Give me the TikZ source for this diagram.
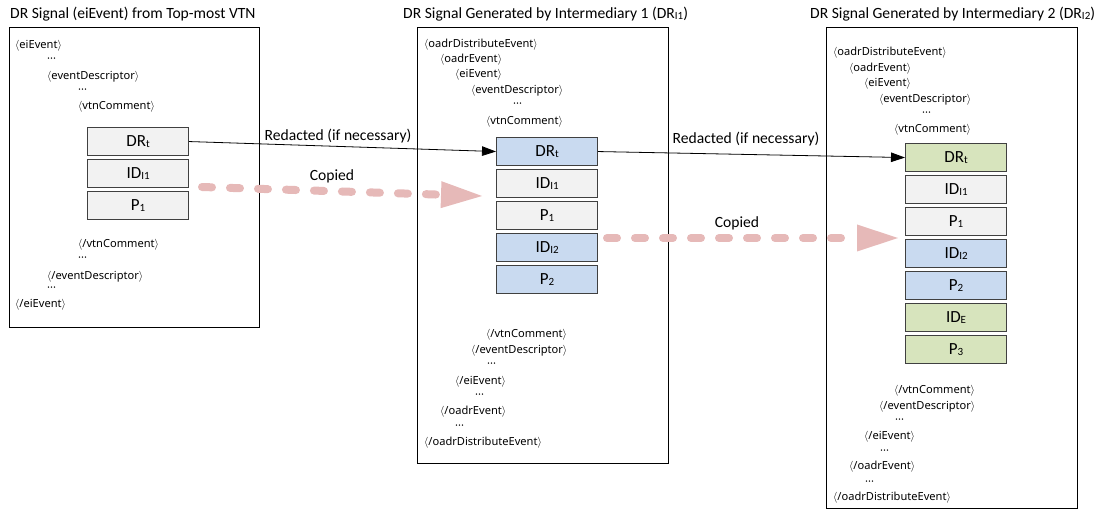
\documentclass[tikz,border=0pt]{standalone}
\usepackage{fontspec}
\setmainfont{Carlito}
\newfontfamily\xmlfont{Noto Sans}
\usetikzlibrary{arrows.meta,calc}
\definecolor{boxgray}{HTML}{F2F2F2}
\definecolor{boxblue}{HTML}{C9DAF0}
\definecolor{boxgreen}{HTML}{D7E4BD}
\definecolor{copypink}{HTML}{E6B9B8}
\newcommand\lsub[1]{\raisebox{-1.2pt}{\fontsize{11}{11}\selectfont #1}}
\newcommand\tsub[1]{\raisebox{-0.8pt}{\fontsize{11}{11}\selectfont #1}}
\newcommand\otg[1]{$\langle$#1$\rangle$}
\newcommand\ctg[1]{$\langle$/#1$\rangle$}
\tikzset{
  panel/.style={draw=black, line width=0.8pt},
  ttl/.style={anchor=west, inner sep=0, font=\fontsize{15.6}{17}\selectfont},
  xml/.style={anchor=west, inner sep=0, font=\xmlfont\fontsize{11.1}{12}\selectfont},
  fld/.style={draw=black!75, line width=1.1pt, minimum width=101pt, minimum height=28pt,
    inner sep=0, anchor=north west, font=\fontsize{17}{18}\selectfont},
  gfld/.style={fld, fill=boxgray},
  bfld/.style={fld, fill=boxblue},
  grfld/.style={fld, fill=boxgreen},
  redact/.style={draw=black, line width=0.8pt, -{Triangle[length=14pt,width=9.5pt]}},
  copyline/.style={draw=copypink, line width=8pt, line cap=round,
    dash pattern=on 10pt off 18pt},
  copytip/.style={fill=copypink},
  lbl/.style={inner sep=0, font=\fontsize{15.6}{17}\selectfont},
}
\begin{document}
\begin{tikzpicture}[x=1pt,y=-1pt]
\useasboundingbox (0,0) rectangle (1102,529);
% titles
\node[ttl] (t1) at (10,14) {DR Signal (eiEvent) from Top-most VTN};
\node[ttl] (t2) at (403,14) {DR Signal Generated by Intermediary 1 (DR\tsub{I1})};
\node[ttl] (t3) at (810,14) {DR Signal Generated by Intermediary 2 (DR\tsub{I2})};
% panels
\draw[panel] (9,27) rectangle (259,327);
\draw[panel] (417,27) rectangle (668,463);
\draw[panel] (826,27) rectangle (1077,508);
% left panel text
\node[xml] (l01) at (15,46) {\otg{eiEvent}};
\node[xml] (l02) at (47,60) {···};
\node[xml] (l03) at (47,77) {\otg{eventDescriptor}};
\node[xml] (l04) at (78,91) {···};
\node[xml] (l05) at (78,107) {\otg{vtnComment}};
\node[xml] (l06) at (78,245) {\ctg{vtnComment}};
\node[xml] (l07) at (78,259) {···};
\node[xml] (l08) at (47,277) {\ctg{eventDescriptor}};
\node[xml] (l09) at (47,289) {···};
\node[xml] (l10) at (15,305) {\ctg{eiEvent}};
% left boxes
\node[gfld] (a1) at (87,127) {DR\lsub{t}};
\node[gfld] (a2) at (87,159) {ID\lsub{I1}};
\node[gfld] (a3) at (87,191) {P\lsub{1}};
% middle panel text
\node[xml] (m01) at (424,45) {\otg{oadrDistributeEvent}};
\node[xml] (m02) at (440,60) {\otg{oadrEvent}};
\node[xml] (m03) at (455,75) {\otg{eiEvent}};
\node[xml] (m04) at (471,91) {\otg{eventDescriptor}};
\node[xml] (m05) at (513,105) {···};
\node[xml] (m06) at (486,122) {\otg{vtnComment}};
\node[xml] (m07) at (486,335) {\ctg{vtnComment}};
\node[xml] (m08) at (471,351) {\ctg{eventDescriptor}};
\node[xml] (m09) at (487,365) {···};
\node[xml] (m10) at (455,382) {\ctg{eiEvent}};
\node[xml] (m11) at (475,396) {···};
\node[xml] (m12) at (440,412) {\ctg{oadrEvent}};
\node[xml] (m13) at (455,427) {···};
\node[xml] (m14) at (424,443) {\ctg{oadrDistributeEvent}};
% middle boxes
\node[bfld] (b1) at (496,137) {DR\lsub{t}};
\node[gfld] (b2) at (496,169) {ID\lsub{I1}};
\node[gfld] (b3) at (496,201) {P\lsub{1}};
\node[bfld] (b4) at (496,233) {ID\lsub{I2}};
\node[bfld] (b5) at (496,265) {P\lsub{2}};
% right panel text
\node[xml] (r01) at (833,53) {\otg{oadrDistributeEvent}};
\node[xml] (r02) at (849,69) {\otg{oadrEvent}};
\node[xml] (r03) at (864,84) {\otg{eiEvent}};
\node[xml] (r04) at (879,100) {\otg{eventDescriptor}};
\node[xml] (r05) at (922,114) {···};
\node[xml] (r06) at (894,130) {\otg{vtnComment}};
\node[xml] (r07) at (894,391) {\ctg{vtnComment}};
\node[xml] (r08) at (879,407) {\ctg{eventDescriptor}};
\node[xml] (r09) at (895,421) {···};
\node[xml] (r10) at (864,437) {\ctg{eiEvent}};
\node[xml] (r11) at (880,452) {···};
\node[xml] (r12) at (849,467) {\ctg{oadrEvent}};
\node[xml] (r13) at (865,483) {···};
\node[xml] (r14) at (833,498) {\ctg{oadrDistributeEvent}};
% right boxes
\node[grfld] (c1) at (905,143) {DR\lsub{t}};
\node[gfld]  (c2) at (905,175) {ID\lsub{I1}};
\node[gfld]  (c3) at (905,207) {P\lsub{1}};
\node[bfld]  (c4) at (905,239) {ID\lsub{I2}};
\node[bfld]  (c5) at (905,271) {P\lsub{2}};
\node[grfld] (c6) at (905,303) {ID\lsub{E}};
\node[grfld] (c7) at (905,335) {P\lsub{3}};
% redaction arrows
\draw[redact] (a1.east) -- (b1.west);
\draw[redact] (b1.east) -- (c1.west);
\node[lbl] (rl1) at (338,136) {Redacted (if necessary)};
\node[lbl] (rl2) at (746,139) {Redacted (if necessary)};
% copy arrows
\coordinate (cs1) at (202,187);
\coordinate (ce1) at (482,196);
\coordinate (cs2) at (607,238);
\coordinate (ce2) at (898,238);
\coordinate (cb1) at ($(ce1)!41pt!(cs1)$);
\coordinate (cb2) at ($(ce2)!41pt!(cs2)$);
\draw[copyline] (cs1) -- ($(ce1)!40pt!(cs1)$);
\draw[copyline] (cs2) -- ($(ce2)!51pt!(cs2)$);
\fill[copytip] (ce1) -- ($(cb1)!13.5pt!90:(ce1)$) -- ($(cb1)!13.5pt!-90:(ce1)$) -- cycle;
\fill[copytip] (ce2) -- ($(cb2)!13.5pt!90:(ce2)$) -- ($(cb2)!13.5pt!-90:(ce2)$) -- cycle;
\node[lbl] (cl1) at (332,176) {Copied};
\node[lbl] (cl2) at (737,223) {Copied};
\end{tikzpicture}
\end{document}
